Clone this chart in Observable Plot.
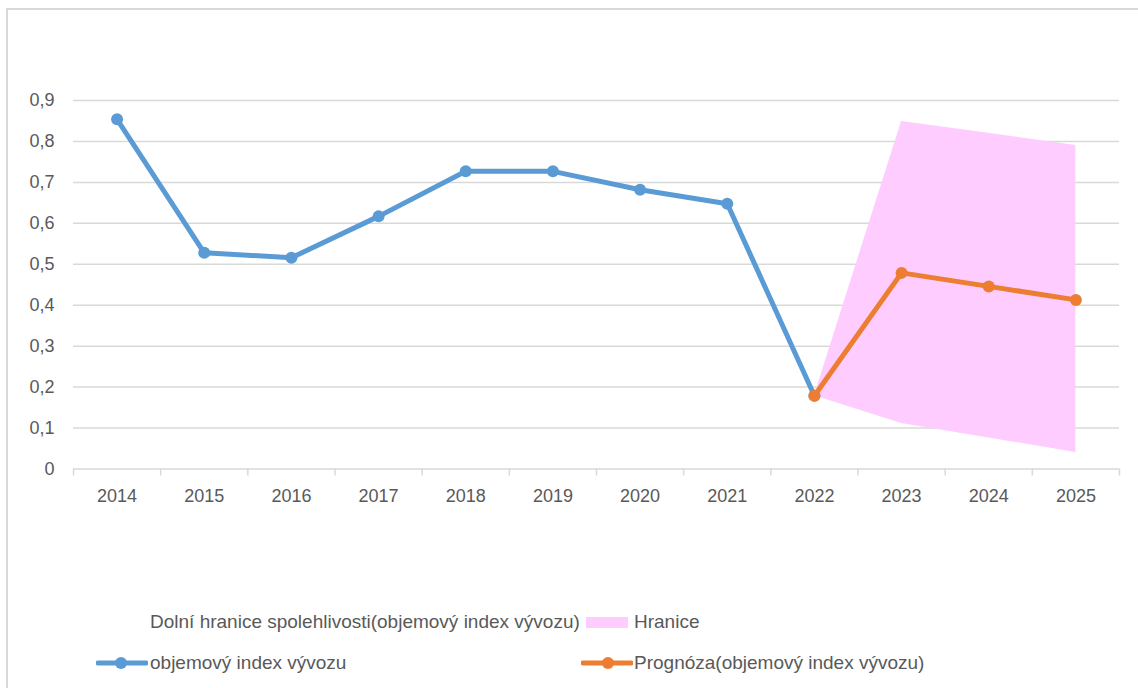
<!DOCTYPE html>
<html><head><meta charset="utf-8">
<script src="https://cdn.jsdelivr.net/npm/d3@7"></script>
<script src="https://cdn.jsdelivr.net/npm/@observablehq/plot@0.6"></script>
<style>
body{margin:0;background:#fff;}
#wrap{position:relative;width:1138px;height:688px;overflow:hidden;font-family:"Liberation Sans",Arial,sans-serif;color:#595959;background:#fff;}
#frame{position:absolute;left:6px;top:8px;width:1300px;height:900px;border:2px solid #d9d9d9;box-sizing:border-box;}
#chart{position:absolute;left:0;top:0;}
.leg{position:absolute;font-size:19px;line-height:20px;white-space:nowrap;}
.sw{position:absolute;}
</style></head>
<body>
<div id="wrap">
  <div id="frame"></div>
  <div id="chart"></div>
  <div class="leg" id="l1" style="left:150px;top:612px;"></div>
  <div class="sw" style="left:586px;top:617px;width:42px;height:11px;background:#ffccff;"></div>
  <div class="leg" id="l2" style="left:634px;top:612px;"></div>
  <svg class="sw" style="left:96px;top:655px;" width="52" height="16"><line x1="2" y1="8" x2="50" y2="8" stroke="#5b9bd5" stroke-width="5" stroke-linecap="round"/><circle cx="25" cy="8" r="6" fill="#5b9bd5"/></svg>
  <div class="leg" id="l3" style="left:150px;top:653px;"></div>
  <svg class="sw" style="left:581px;top:655px;" width="52" height="16"><line x1="2" y1="8" x2="50" y2="8" stroke="#ed7d31" stroke-width="5" stroke-linecap="round"/><circle cx="27" cy="8" r="6" fill="#ed7d31"/></svg>
  <div class="leg" id="l4" style="left:634px;top:653px;"></div>
</div>
<script>
const years = [2014,2015,2016,2017,2018,2019,2020,2021,2022,2023,2024,2025];
const actualYears = [2014,2015,2016,2017,2018,2019,2020,2021,2022];
const exportIndex = [0.854,0.528,0.516,0.617,0.727,0.727,0.682,0.648,0.179];
const forecastYears = [2022,2023,2024,2025];
const forecast = [0.179,0.479,0.446,0.413];
const lowerBound = [0.179,0.111,0.076,0.040];
const upperBound = [0.179,0.849,0.820,0.790];
const yTicks = [0,0.1,0.2,0.3,0.4,0.5,0.6,0.7,0.8,0.9];
const legendLabels = ["Dolní hranice spolehlivosti(objemový index vývozu)","Hranice","objemový index vývozu","Prognóza(objemový index vývozu)"];

document.getElementById("l1").textContent = legendLabels[0];
document.getElementById("l2").textContent = legendLabels[1];
document.getElementById("l3").textContent = legendLabels[2];
document.getElementById("l4").textContent = legendLabels[3];

const actual = actualYears.map((y,i)=>({year:y, v:exportIndex[i]}));
const fc = forecastYears.map((y,i)=>({year:y, v:forecast[i], lo:lowerBound[i], hi:upperBound[i]}));
const boundaries = [years[0]-0.5, ...years.map(y=>y+0.5)];

const fmtY = d => d === 0 ? "0" : d3.format(".1f")(d).replace(".", ",");

const chart = Plot.plot({
  width: 1138,
  height: 560,
  marginLeft: 73,
  marginRight: 19,
  marginTop: 100,
  marginBottom: 91.5,
  x: {type: "linear", domain: [years[0]-0.5, years[years.length-1]+0.5]},
  y: {domain: [0, 0.9]},
  style: {fontFamily: '"Liberation Sans", Arial, sans-serif', fontSize: "18px", color: "#595959", background: "transparent", overflow: "visible"},
  marks: [
    Plot.gridY(yTicks.slice(1), {stroke: "#d9d9d9", strokeOpacity: 1, strokeWidth: 1.5}),
    Plot.areaY(fc, {x: "year", y1: "lo", y2: "hi", fill: "#ffccff"}),
    Plot.ruleY([0], {stroke: "#d9d9d9", strokeWidth: 1.5}),
    Plot.axisX(boundaries, {tickSize: 7, tickFormat: () => "", stroke: "#d9d9d9", strokeWidth: 1.5, strokeOpacity: 1, label: null}),
    Plot.axisX(years, {tickSize: 0, tickPadding: 20, tickFormat: d => String(d), label: null, fill: "#595959"}),
    Plot.axisY(yTicks, {tickSize: 0, tickPadding: 19, tickFormat: fmtY, label: null, fill: "#595959"}),
    Plot.line(actual, {x: "year", y: "v", stroke: "#5b9bd5", strokeWidth: 5, strokeLinejoin: "round", strokeLinecap: "round"}),
    Plot.dot(actual, {x: "year", y: "v", r: 6, fill: "#5b9bd5"}),
    Plot.line(fc, {x: "year", y: "v", stroke: "#ed7d31", strokeWidth: 5, strokeLinejoin: "round", strokeLinecap: "round"}),
    Plot.dot(fc, {x: "year", y: "v", r: 6, fill: "#ed7d31"})
  ]
});
document.getElementById("chart").appendChild(chart);
</script>
</body></html>
